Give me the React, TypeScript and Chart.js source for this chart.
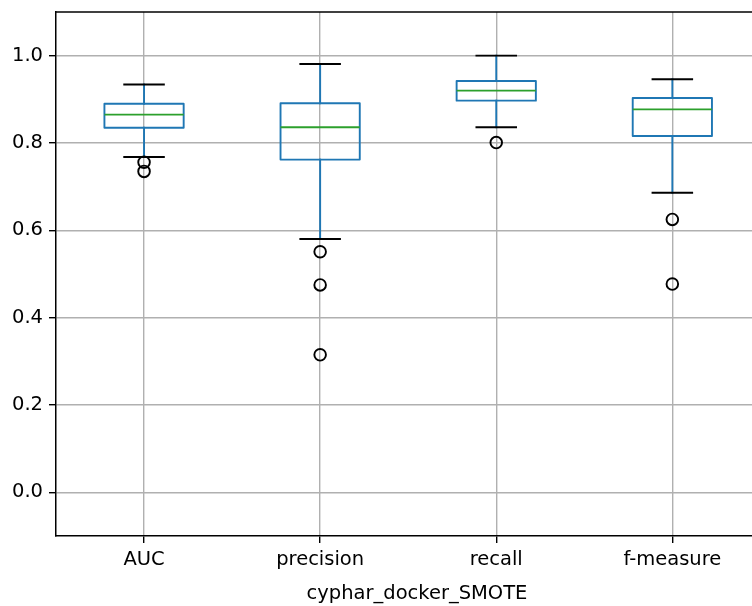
import React, { useEffect, useRef } from "react";
import { Chart, registerables } from "chart.js";

Chart.register(...registerables);

// ---- data ----
const categories = ["AUC", "precision", "recall", "f-measure"];
const whiskerHigh = [0.934, 0.981, 1.0, 0.946];
const q3 = [0.89, 0.891, 0.942, 0.903];
const medians = [0.865, 0.836, 0.92, 0.877];
const q1 = [0.835, 0.762, 0.897, 0.816];
const whiskerLow = [0.768, 0.58, 0.836, 0.686];
const outliers = [
  [0.756, 0.735],
  [0.551, 0.475, 0.315],
  [0.801],
  [0.625, 0.477],
];
const yTicks = [0, 0.2, 0.4, 0.6, 0.8, 1.0];
const xTitle = "cyphar_docker_SMOTE";

// ---- style ----
const FONT = "'DejaVu Sans', sans-serif";
const FONT_SIZE = 19.5;
const BLUE = "#1f77b4";
const GREEN = "#2ca02c";
const BOX_W = 0.45;
const CAP_W = 0.225;
const LW = 1.9;

const boxPlugin = {
  id: "boxes",
  beforeDatasetsDraw(chart: any) {
    const { ctx, chartArea } = chart;
    const x = chart.scales.x;
    const y = chart.scales.y;
    ctx.save();
    ctx.beginPath();
    ctx.rect(chartArea.left, chartArea.top, chartArea.right - chartArea.left, chartArea.bottom - chartArea.top);
    ctx.clip();
    ctx.lineCap = "square";
    ctx.lineJoin = "round";
    const seg = (x1: number, y1: number, x2: number, y2: number, color: string) => {
      ctx.strokeStyle = color;
      ctx.lineWidth = LW;
      ctx.beginPath();
      ctx.moveTo(x1, y1);
      ctx.lineTo(x2, y2);
      ctx.stroke();
    };
    categories.forEach((_, i) => {
      const pos = i + 1;
      const xc = x.getPixelForValue(pos);
      const xl = x.getPixelForValue(pos - BOX_W / 2);
      const xr = x.getPixelForValue(pos + BOX_W / 2);
      const cl = x.getPixelForValue(pos - CAP_W / 2);
      const cr = x.getPixelForValue(pos + CAP_W / 2);
      const yHi = y.getPixelForValue(whiskerHigh[i]);
      const yQ3 = y.getPixelForValue(q3[i]);
      const yMed = y.getPixelForValue(medians[i]);
      const yQ1 = y.getPixelForValue(q1[i]);
      const yLo = y.getPixelForValue(whiskerLow[i]);
      // whiskers
      seg(xc, yQ3, xc, yHi, BLUE);
      seg(xc, yQ1, xc, yLo, BLUE);
      // box
      ctx.strokeStyle = BLUE;
      ctx.lineWidth = LW;
      ctx.beginPath();
      ctx.rect(xl, yQ3, xr - xl, yQ1 - yQ3);
      ctx.stroke();
      // caps
      seg(cl, yHi, cr, yHi, "#000");
      seg(cl, yLo, cr, yLo, "#000");
      // median
      ctx.lineCap = "butt";
      seg(xl, yMed, xr, yMed, GREEN);
      ctx.lineCap = "square";
    });
    ctx.restore();
  },
  afterDraw(chart: any) {
    const { ctx, chartArea } = chart;
    ctx.save();
    ctx.strokeStyle = "#000";
    ctx.lineWidth = 1.5;
    ctx.beginPath();
    ctx.moveTo(chartArea.left, chartArea.top);
    ctx.lineTo(chartArea.right, chartArea.top);
    ctx.stroke();
    ctx.restore();
  },
};

export default function App() {
  const ref = useRef<HTMLCanvasElement>(null);
  useEffect(() => {
    const flierData = outliers.flatMap((arr, i) => arr.map((v) => ({ x: i + 1, y: v })));
    const chart = new Chart(ref.current as HTMLCanvasElement, {
      type: "scatter",
      data: {
        datasets: [
          {
            label: "fliers",
            data: flierData,
            pointStyle: "circle",
            pointRadius: 5.8,
            pointBorderWidth: 1.9,
            borderColor: "#000",
            backgroundColor: "rgba(0,0,0,0)",
            pointBackgroundColor: "rgba(0,0,0,0)",
            pointBorderColor: "#000",
            showLine: false,
          },
        ],
      },
      options: {
        animation: false,
        responsive: false,
        devicePixelRatio: 1,
        layout: { padding: { top: 12, right: 12, left: 0, bottom: 0 } },
        plugins: {
          legend: { display: false },
          tooltip: { enabled: false },
        },
        scales: {
          x: {
            type: "linear",
            min: 0.5,
            max: 4.6,
            afterBuildTicks: (scale: any) => {
              scale.ticks = categories.map((_, i) => ({ value: i + 1 }));
            },
            afterFit: (scale: any) => {
              scale.height = 70;
              scale.paddingLeft = 0;
              scale.paddingRight = 0;
            },
            ticks: {
              autoSkip: false,
              maxRotation: 0,
              padding: 5,
              color: "#000",
              font: { family: FONT, size: FONT_SIZE },
              callback: (v: any) => categories[Math.round(Number(v)) - 1] ?? "",
            },
            grid: {
              color: "#b0b0b0",
              lineWidth: 1.4,
              tickColor: "#000",
              tickLength: 7,
              drawTicks: true,
            },
            border: { display: true, color: "#000", width: 1.5 },
            title: {
              display: true,
              text: xTitle,
              color: "#000",
              font: { family: FONT, size: FONT_SIZE },
              padding: { top: 0, bottom: 0 },
            },
          },
          y: {
            type: "linear",
            min: -0.1,
            max: 1.1,
            afterBuildTicks: (scale: any) => {
              scale.ticks = yTicks.map((v) => ({ value: v }));
            },
            afterFit: (scale: any) => {
              scale.width = 56;
              scale.paddingTop = 0;
              scale.paddingBottom = 0;
            },
            ticks: {
              padding: 6,
              color: "#000",
              font: { family: FONT, size: FONT_SIZE },
              callback: (v: any) => Number(v).toFixed(1),
            },
            grid: {
              color: "#b0b0b0",
              lineWidth: 1.4,
              tickColor: "#000",
              tickLength: 7,
              drawTicks: true,
            },
            border: { display: true, color: "#000", width: 1.5 },
          },
        },
      },
      plugins: [boxPlugin],
    } as any);
    return () => chart.destroy();
  }, []);
  return (
    <div
      style={{
        position: "absolute",
        left: 0,
        top: 0,
        width: 752,
        height: 606,
        overflow: "hidden",
        background: "#fff",
      }}
    >
      <canvas ref={ref} width={790} height={606} style={{ display: "block", width: 790, height: 606 }} />
    </div>
  );
}
